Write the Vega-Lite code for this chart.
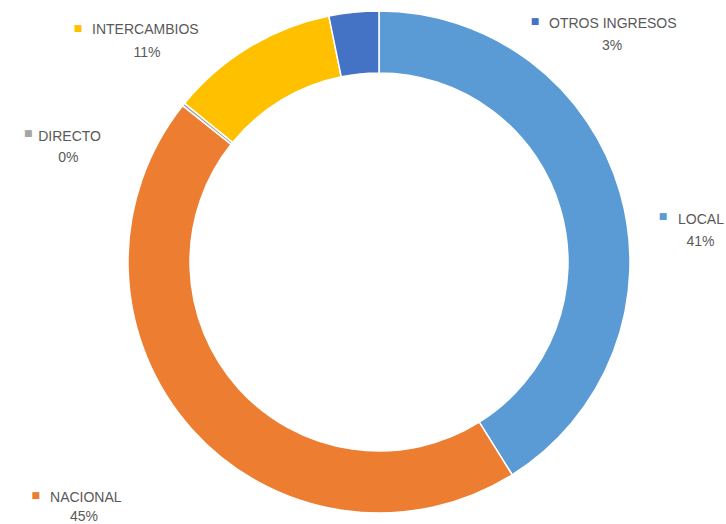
{
  "$schema": "https://vega.github.io/schema/vega-lite/v6.json",
  "width": 694,
  "height": 524,
  "autosize": {"type": "none"},
  "padding": {"left": 32, "top": 0, "right": 0, "bottom": 0},
  "background": "white",
  "view": {"stroke": null},
  "data": {"values": [
    {"category": "LOCAL", "share": 0.411, "ord": 1},
    {"category": "NACIONAL", "share": 0.446, "ord": 2},
    {"category": "DIRECTO", "share": 0.002, "ord": 3},
    {"category": "INTERCAMBIOS", "share": 0.109, "ord": 4},
    {"category": "OTROS INGRESOS", "share": 0.032, "ord": 5}
  ]},
  "encoding": {
    "theta": {"field": "share", "type": "quantitative", "stack": true},
    "order": {"field": "ord", "type": "quantitative"}
  },
  "layer": [
    {
      "mark": {"type": "arc", "outerRadius": 251, "innerRadius": 189, "stroke": "white", "strokeWidth": 1.5},
      "encoding": {
        "color": {"field": "category", "type": "nominal",
          "scale": {"domain": ["LOCAL", "NACIONAL", "DIRECTO", "INTERCAMBIOS", "OTROS INGRESOS"],
                    "range": ["#5B9BD5", "#ED7D31", "#A5A5A5", "#FFC000", "#4472C4"]},
          "legend": null}
      }
    },

    {"mark": {"type": "text", "radius": 300, "dx": -4.3, "dy": 36.8, "font": "DejaVu Sans", "fontSize": 9, "align": "center", "baseline": "middle"},
     "encoding": {"text": {"condition": {"test": "datum.category === 'LOCAL'", "value": "■"}, "value": ""},
                  "color": {"field": "category", "type": "nominal", "legend": null}}},
    {"mark": {"type": "text", "radius": 300, "dx": 10.7, "dy": 44.8, "font": "Liberation Sans", "fontSize": 14, "align": "left", "baseline": "alphabetic", "color": "#595959"},
     "encoding": {"text": {"condition": {"test": "datum.category === 'LOCAL'", "field": "category", "type": "nominal"}, "value": ""}}},
    {"mark": {"type": "text", "radius": 300, "dx": 33.2, "dy": 66.8, "font": "Liberation Sans", "fontSize": 14, "align": "center", "baseline": "alphabetic", "color": "#595959"},
     "encoding": {"text": {"condition": {"test": "datum.category === 'LOCAL'", "field": "share", "type": "quantitative", "format": ".0%"}, "value": ""}}},

    {"mark": {"type": "text", "radius": 300, "dx": -119.4, "dy": 33.5, "font": "DejaVu Sans", "fontSize": 9, "align": "center", "baseline": "middle"},
     "encoding": {"text": {"condition": {"test": "datum.category === 'NACIONAL'", "value": "■"}, "value": ""},
                  "color": {"field": "category", "type": "nominal", "legend": null}}},
    {"mark": {"type": "text", "radius": 300, "dx": -105.2, "dy": 39.9, "font": "Liberation Sans", "fontSize": 14, "align": "left", "baseline": "alphabetic", "color": "#595959"},
     "encoding": {"text": {"condition": {"test": "datum.category === 'NACIONAL'", "field": "category", "type": "nominal"}, "value": ""}}},
    {"mark": {"type": "text", "radius": 300, "dx": -71.2, "dy": 59, "font": "Liberation Sans", "fontSize": 14, "align": "center", "baseline": "alphabetic", "color": "#595959"},
     "encoding": {"text": {"condition": {"test": "datum.category === 'NACIONAL'", "field": "share", "type": "quantitative", "format": ".0%"}, "value": ""}}},

    {"mark": {"type": "text", "radius": 300, "dx": -117.2, "dy": 59.8, "font": "DejaVu Sans", "fontSize": 9, "align": "center", "baseline": "middle"},
     "encoding": {"text": {"condition": {"test": "datum.category === 'DIRECTO'", "value": "■"}, "value": ""},
                  "color": {"field": "category", "type": "nominal", "legend": null}}},
    {"mark": {"type": "text", "radius": 300, "dx": -107.2, "dy": 67, "font": "Liberation Sans", "fontSize": 14, "align": "left", "baseline": "alphabetic", "color": "#595959"},
     "encoding": {"text": {"condition": {"test": "datum.category === 'DIRECTO'", "field": "category", "type": "nominal"}, "value": ""}}},
    {"mark": {"type": "text", "radius": 300, "dx": -77.2, "dy": 88.3, "font": "Liberation Sans", "fontSize": 14, "align": "center", "baseline": "alphabetic", "color": "#595959"},
     "encoding": {"text": {"condition": {"test": "datum.category === 'DIRECTO'", "field": "share", "type": "quantitative", "format": ".0%"}, "value": ""}}},

    {"mark": {"type": "text", "radius": 300, "dx": -145.8, "dy": 23.1, "font": "DejaVu Sans", "fontSize": 9, "align": "center", "baseline": "middle"},
     "encoding": {"text": {"condition": {"test": "datum.category === 'INTERCAMBIOS'", "value": "■"}, "value": ""},
                  "color": {"field": "category", "type": "nominal", "legend": null}}},
    {"mark": {"type": "text", "radius": 300, "dx": -131.8, "dy": 28.8, "font": "Liberation Sans", "fontSize": 14, "align": "left", "baseline": "alphabetic", "color": "#595959"},
     "encoding": {"text": {"condition": {"test": "datum.category === 'INTERCAMBIOS'", "field": "category", "type": "nominal"}, "value": ""}}},
    {"mark": {"type": "text", "radius": 300, "dx": -76.8, "dy": 51.8, "font": "Liberation Sans", "fontSize": 14, "align": "center", "baseline": "alphabetic", "color": "#595959"},
     "encoding": {"text": {"condition": {"test": "datum.category === 'INTERCAMBIOS'", "field": "share", "type": "quantitative", "format": ".0%"}, "value": ""}}},

    {"mark": {"type": "text", "radius": 300, "dx": 186.1, "dy": 57, "font": "DejaVu Sans", "fontSize": 9, "align": "center", "baseline": "middle"},
     "encoding": {"text": {"condition": {"test": "datum.category === 'OTROS INGRESOS'", "value": "■"}, "value": ""},
                  "color": {"field": "category", "type": "nominal", "legend": null}}},
    {"mark": {"type": "text", "radius": 300, "dx": 200.1, "dy": 64.5, "font": "Liberation Sans", "fontSize": 14, "align": "left", "baseline": "alphabetic", "color": "#595959"},
     "encoding": {"text": {"condition": {"test": "datum.category === 'OTROS INGRESOS'", "field": "category", "type": "nominal"}, "value": ""}}},
    {"mark": {"type": "text", "radius": 300, "dx": 263.1, "dy": 86.5, "font": "Liberation Sans", "fontSize": 14, "align": "center", "baseline": "alphabetic", "color": "#595959"},
     "encoding": {"text": {"condition": {"test": "datum.category === 'OTROS INGRESOS'", "field": "share", "type": "quantitative", "format": ".0%"}, "value": ""}}}
  ]
}
